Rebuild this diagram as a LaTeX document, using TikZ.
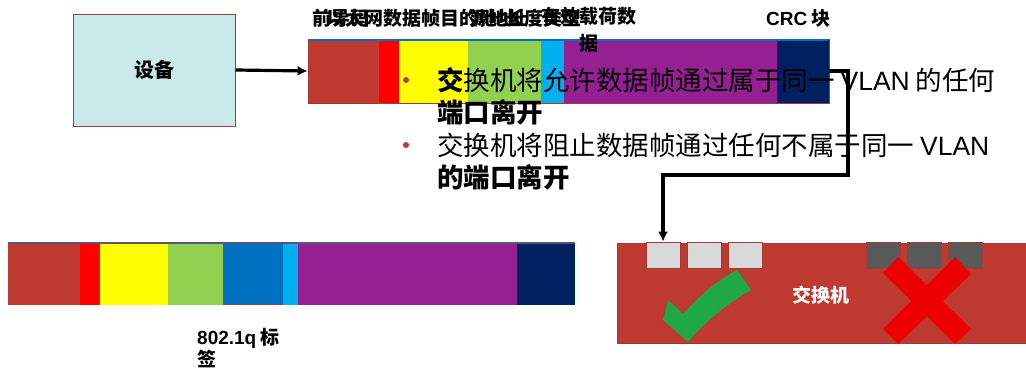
\documentclass[tikz,border=0pt]{standalone}
\usepackage{fontspec}
\setmainfont{Noto Sans CJK SC}
\newfontfamily\lat{Liberation Sans}
\usetikzlibrary{arrows.meta}
\definecolor{brk}{HTML}{BE3A31}
\definecolor{rd}{HTML}{FF0000}
\definecolor{yl}{HTML}{FFFF00}
\definecolor{gr}{HTML}{92D050}
\definecolor{lb}{HTML}{00B0F0}
\definecolor{bl}{HTML}{0070C0}
\definecolor{pu}{HTML}{942092}
\definecolor{nv}{HTML}{002060}
\definecolor{dev}{HTML}{C9E9EB}
\definecolor{edge}{HTML}{A33A35}
\definecolor{ckg}{HTML}{1FA844}
\definecolor{xr}{HTML}{EE0000}
\definecolor{lgp}{HTML}{D9D9D9}
\definecolor{dgp}{HTML}{595959}
\tikzset{
  lbl/.style={font=\fontsize{19}{22}\selectfont\bfseries, anchor=base west, inner sep=0pt},
  bt/.style={font=\fontsize{26.5}{32}\selectfont, anchor=base west, inner sep=0pt},
  port/.style={draw=edge, line width=0.8pt, minimum width=34pt, minimum height=26pt, inner sep=0pt},
  conn/.style={line width=3.2pt, -{Latex[length=10pt,width=10pt]}}
}
\begin{document}
\begin{tikzpicture}[x=1pt,y=-1pt]
\useasboundingbox (0,0) rectangle (1026,380);
% device
\node[draw=edge, line width=1pt, fill=dev, minimum width=162pt, minimum height=112pt, inner sep=0pt,
  font=\fontsize{20}{24}\selectfont\bfseries] (dev) at (154,70) {设备};
% top frame
\fill[brk] (308,39) rectangle (379,103);
\fill[rd] (379,39) rectangle (399,103);
\fill[yl] (399,39) rectangle (468,103);
\fill[gr] (468,39) rectangle (541,103);
\fill[lb] (541,39) rectangle (564,103);
\fill[pu] (564,39) rectangle (777,103);
\fill[nv] (777,39) rectangle (829,103);
\node[draw=edge, line width=0.8pt, minimum width=521pt, minimum height=64pt, inner sep=0pt] (frame) at (568.5,71) {};
\draw[bl, line width=1.2pt] (309,40) -- (828,40);
% top labels (overlapping, as in the reference)
\node[lbl] (l1) at (312,25) {前导码};
\node[lbl] (l2) at (326,25) {以太网数据帧};
\node[lbl] (l3) at (440,25) {目的地址};
\node[lbl] (l4) at (470,25) {源地址};
\node[lbl] (l5) at (505,25) {长度类型};
\node[lbl, align=center, anchor=north] (l6) at (589,7) {有效载荷数\\[5pt]据};
\node[lbl] (crc) at (766,25) {{\lat CRC} 块};
% arrow device -> frame
\draw[conn] (dev.east) -- (frame.west);
% bullets
\fill[brk] (406,80) circle (3pt);
\fill[brk] (406,145) circle (3pt);
\node[bt] (b1) at (437,90) {{\bfseries 交}换机将允许数据帧通过属于同一 {\lat VLAN} 的任何};
\node[bt] (b2) at (437,122) {\bfseries 端口离开};
\node[bt] (b3) at (437,155) {交换机将阻止数据帧通过任何不属于同一 {\lat VLAN}};
\node[bt] (b4) at (437,187) {\bfseries 的端口离开};
% bottom frame
\fill[brk] (8,243) rectangle (80,305);
\fill[rd] (80,243) rectangle (100,305);
\fill[yl] (100,243) rectangle (168,305);
\fill[gr] (168,243) rectangle (223,305);
\fill[bl] (223,243) rectangle (283,305);
\fill[lb] (283,243) rectangle (298,305);
\fill[pu] (298,243) rectangle (517,305);
\fill[nv] (517,243) rectangle (575,305);
\draw[edge, line width=0.9pt] (8,242) -- (575,242);
\draw[bl, line width=0.9pt] (8,243.5) -- (575,243.5);
\draw[edge, line width=0.9pt] (223,304) -- (283,304);
\node[lbl, align=left, anchor=north west] (tag) at (197,328) {{\lat 802.1q} 标\\签};
% switch
\node[draw=edge, line width=0.8pt, fill=brk, minimum width=412pt, minimum height=100pt, inner sep=0pt] (sw) at (823,293) {};
\node[font=\fontsize{19}{22}\selectfont\bfseries, text=white] (swl) at (821,295) {交换机};
\node[port, fill=lgp] (p1) at (663,255) {};
\node[port, fill=lgp] (p2) at (704,255) {};
\node[port, fill=lgp] (p3) at (745,255) {};
\node[port, fill=dgp] (p4) at (883,255) {};
\node[port, fill=dgp] (p5) at (924,255) {};
\node[port, fill=dgp] (p6) at (965,255) {};
% check
\fill[ckg] (663,320) -- (668,300) -- (683,314) .. controls (700,295) and (715,282) .. (737,270)
  -- (751,290) .. controls (725,305) and (705,322) .. (688,342) -- cycle;
% cross
\fill[xr] (883,273) -- (898,257) -- (971,329) -- (955,344) -- cycle;
\fill[xr] (955,257) -- (971,274) -- (898,344) -- (883,329) -- cycle;
% connector frame -> switch port
\draw[conn] (frame.east) -| (848,175) -| (p1.north);
\end{tikzpicture}
\end{document}
